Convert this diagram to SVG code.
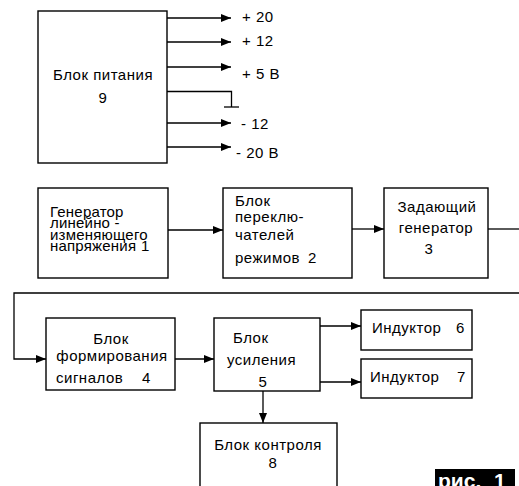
<svg xmlns="http://www.w3.org/2000/svg" width="519" height="486" viewBox="0 0 519 486">
<defs>
<style>
.box{fill:#fff;stroke:#000;stroke-width:1.4}
.ln{fill:none;stroke:#000;stroke-width:1.3}
text{font-family:"Liberation Sans",Arial,sans-serif;font-size:15px;fill:#000;letter-spacing:0.5px}
.c{text-anchor:middle}
.t{letter-spacing:0.2px}
.fig{font-weight:bold;font-size:21px;fill:#fff;letter-spacing:0}
</style>
<marker id="ah" viewBox="0 0 10 8" refX="10" refY="4" markerWidth="10" markerHeight="8" markerUnits="userSpaceOnUse" orient="auto">
<path d="M0,0 L10,4 L0,8 Z" fill="#000"/>
</marker>
</defs>
<rect width="519" height="486" fill="#fff"/>

<g id="connectors">
<line class="ln" x1="167" y1="18" x2="231" y2="18" marker-end="url(#ah)"/>
<line class="ln" x1="167" y1="42" x2="231" y2="42" marker-end="url(#ah)"/>
<line class="ln" x1="167" y1="67" x2="231" y2="67" marker-end="url(#ah)"/>
<polyline class="ln" points="167,91.5 231.5,91.5 231.5,107"/>
<line class="ln" x1="224" y1="107" x2="239" y2="107"/>
<line class="ln" x1="167" y1="123" x2="231" y2="123" marker-end="url(#ah)"/>
<line class="ln" x1="167" y1="147" x2="231" y2="147" marker-end="url(#ah)"/>
<line class="ln" x1="168" y1="230" x2="223" y2="230" marker-end="url(#ah)"/>
<line class="ln" x1="352" y1="229" x2="384" y2="229" marker-end="url(#ah)"/>
<line class="ln" x1="488" y1="229" x2="519" y2="229"/>
<polyline class="ln" points="519,293 14,293 14,359 46,359" marker-end="url(#ah)"/>
<line class="ln" x1="175" y1="359" x2="214" y2="359" marker-end="url(#ah)"/>
<line class="ln" x1="320" y1="326" x2="361" y2="326" marker-end="url(#ah)"/>
<line class="ln" x1="320" y1="382" x2="361" y2="382" marker-end="url(#ah)"/>
<line class="ln" x1="263" y1="391" x2="263" y2="423" marker-end="url(#ah)"/>
</g>

<g id="power-labels">
<text x="242" y="22">+ 20</text>
<text x="242" y="46">+ 12</text>
<text x="242" y="79">+ 5 В</text>
<text x="241" y="129">- 12</text>
<text x="236" y="158">- 20 В</text>
</g>

<g id="node9">
<rect class="box" x="38" y="11" width="129" height="152"/>
<text class="c" x="103" y="80">Блок питания</text>
<text class="c" x="103" y="103">9</text>
</g>

<g id="node1">
<rect class="box" x="38" y="188" width="130" height="90"/>
<text class="t" x="50" y="216.5">Генератор</text>
<text class="t" x="50" y="228">линейно -</text>
<text class="t" x="50" y="239.5">изменяющего</text>
<text class="t" x="50" y="251">напряжения <tspan x="141">1</tspan></text>
</g>

<g id="node2">
<rect class="box" x="223" y="188" width="129" height="90"/>
<text x="235" y="206">Блок</text>
<text x="235" y="222">переклю-</text>
<text x="235" y="240">чателей</text>
<text x="235" y="263">режимов <tspan x="308">2</tspan></text>
</g>

<g id="node3">
<rect class="box" x="384" y="188" width="104" height="90"/>
<text class="c" x="437" y="212">Задающий</text>
<text class="c" x="436" y="233">генератор</text>
<text class="c" x="429" y="254">3</text>
</g>

<g id="node4">
<rect class="box" x="46" y="318" width="129" height="72"/>
<text class="c" x="111" y="344">Блок</text>
<text class="c" x="112" y="361">формирования</text>
<text x="56" y="383">сигналов <tspan x="142">4</tspan></text>
</g>

<g id="node5">
<rect class="box" x="214" y="318" width="106" height="73"/>
<text x="233" y="343">Блок</text>
<text x="227" y="365">усиления</text>
<text class="c" x="263" y="387">5</text>
</g>

<g id="node6">
<rect class="box" x="361" y="310" width="111" height="40"/>
<text x="372" y="333">Индуктор <tspan x="456">6</tspan></text>
</g>

<g id="node7">
<rect class="box" x="361" y="359" width="111" height="39"/>
<text x="370" y="382">Индуктор <tspan x="457">7</tspan></text>
</g>

<g id="node8">
<rect class="box" x="200" y="423" width="137" height="70"/>
<text class="c" x="268" y="450">Блок контроля</text>
<text class="c" x="273" y="468">8</text>
</g>

<g id="caption">
<rect x="435" y="469" width="80" height="20" fill="#000"/>
<text class="fig" x="438" y="488">рис. <tspan x="494">1</tspan></text>
</g>
</svg>
